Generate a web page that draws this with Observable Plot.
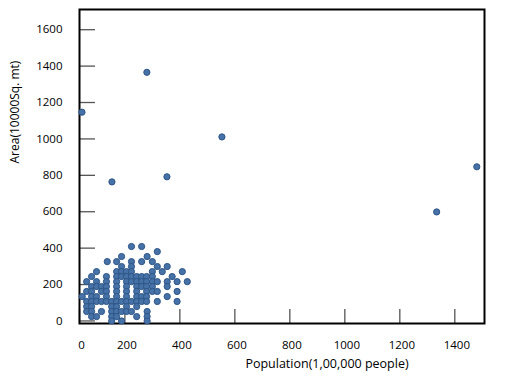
<!DOCTYPE html>
<html><head><meta charset="utf-8">
<script src="https://cdn.jsdelivr.net/npm/d3@7"></script>
<script src="https://cdn.jsdelivr.net/npm/@observablehq/plot@0.6"></script>
<style>body{margin:0;background:#fff;}</style>
</head><body><div id="chart"></div>
<script>
// Population (1,00,000 people)
const population = [
  44, 280, 153, 353, 553, 1480, 1334,
  224, 261,
  318,
  188, 281,
  136, 170, 224, 261, 300,
  188, 224, 318, 354,
  97, 170, 188, 206, 224, 300, 336, 409,
  79, 133, 170, 188, 206, 224, 243, 261, 279, 300, 372,
  61, 97, 133, 170, 206, 224, 243, 261, 279, 300, 318, 354, 390, 427,
  79, 97, 115, 133, 170, 206, 243, 261, 279, 300, 354,
  61, 79, 115, 133, 170, 206, 243, 279, 300, 318, 390,
  45, 79, 97, 133, 170, 206, 243, 261, 279, 354,
  61, 79, 97, 115, 133, 152, 170, 188, 206, 224, 243, 261, 279, 318, 390,
  61, 79, 152, 170, 206, 243,
  61, 79, 115, 152, 170, 188, 206, 224, 281,
  79, 97, 152, 170, 243, 281,
  152, 188, 281
];
// Area (10000 Sq. mt)
const area = [
  1147, 1366, 764, 792, 1011, 847, 599,
  409, 409,
  381,
  354, 354,
  326, 326, 326, 326, 326,
  299, 299, 299, 299,
  271, 271, 271, 271, 271, 271, 271, 271,
  244, 244, 244, 244, 244, 244, 244, 244, 244, 244, 244,
  216, 216, 216, 216, 216, 216, 216, 216, 216, 216, 216, 216, 216, 216,
  189, 189, 189, 189, 189, 189, 189, 189, 189, 189, 189,
  162, 162, 162, 162, 162, 162, 162, 162, 162, 162, 162,
  134, 134, 134, 134, 134, 134, 134, 134, 134, 134,
  107, 107, 107, 107, 107, 107, 107, 107, 107, 107, 107, 107, 107, 107, 107,
  79, 79, 79, 79, 79, 79,
  52, 52, 52, 52, 52, 52, 52, 52, 52,
  24, 24, 24, 24, 24, 24,
  0, 0, 0
];
const xTicks = [35, 200, 400, 600, 800, 1000, 1200, 1400];
const xTickLabels = ["0", "200", "400", "600", "800", "1000", "1200", "1400"];
const yTicks = [0, 200, 400, 600, 800, 1000, 1200, 1400, 1600];
const xLabel = ["Population(1,00,000 people)"];
const yLabel = ["Area(10000Sq. mt)"];

const data = population.map((p, i) => ({population: p, area: area[i]}));

const chart = Plot.plot({
  width: 508,
  height: 392,
  marginLeft: 79,
  marginRight: 24,
  marginTop: 9,
  marginBottom: 69,
  style: {fontFamily: "Open Sans, sans-serif", fontSize: "11.5px", color: "#000", background: "#fff", overflow: "visible"},
  x: {domain: [35, 1508]},
  y: {domain: [-14, 1711]},
  marks: [
    Plot.axisX({ticks: xTicks, tickSize: -14, tickPadding: 0, tickFormat: () => "", stroke: "#555", strokeWidth: 1.3, label: null}),
    Plot.axisX({ticks: xTicks, tickSize: 0, tickPadding: 17, tickFormat: (d, i) => xTickLabels[i], dx: 2, label: null}),
    Plot.axisY({ticks: yTicks, tickSize: -16, tickPadding: 0, tickFormat: () => "", stroke: "#555", strokeWidth: 1.3, label: null}),
    Plot.axisY({ticks: yTicks, tickSize: 0, tickPadding: 17, tickFormat: d => String(d), label: null}),
    Plot.frame({stroke: "#000", strokeWidth: 2}),
    Plot.dot(data, {x: "population", y: "area", r: 3.1, fill: "#4672a8", stroke: "#2d5586", strokeWidth: 1}),
    Plot.text(xLabel, {frameAnchor: "bottom", text: d => d, dy: 44, dx: 45, fontSize: 12.5, fill: "#000"}),
    Plot.text(yLabel, {frameAnchor: "left", text: d => d, rotate: -90, dx: -64, dy: -3, fontSize: 12, fill: "#000"})
  ]
});
document.getElementById("chart").appendChild(chart);
</script>
</body></html>
